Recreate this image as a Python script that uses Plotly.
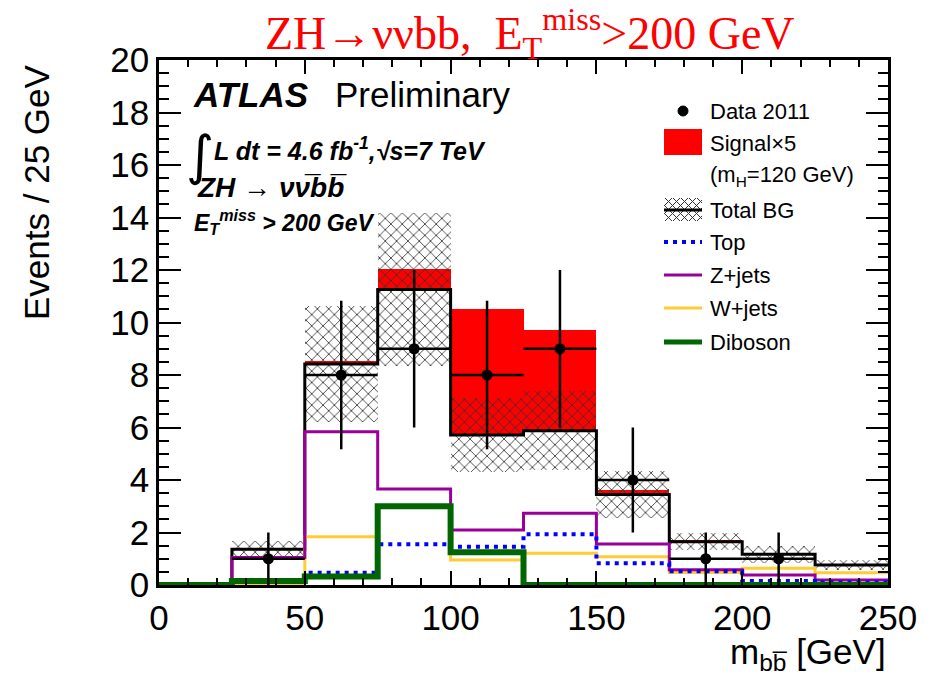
import plotly.graph_objects as go

# ---------------- data ----------------
bin_edges = [0, 25, 50, 75, 100, 125, 150, 175, 200, 225, 250]
bin_centers = [12.5, 37.5, 62.5, 87.5, 112.5, 137.5, 162.5, 187.5, 212.5, 237.5]

zjets = [0.0, 1.05, 5.84, 3.66, 2.10, 2.73, 1.56, 0.58, 0.38, 0.19]
wjets = [0.0, 0.00, 1.84, 3.00, 0.95, 1.21, 1.08, 0.48, 0.64, 0.47]
top = [0.0, 0.18, 0.47, 1.55, 1.46, 1.93, 0.83, 0.52, 0.15, 0.10]
diboson = [0.0, 0.15, 0.32, 3.00, 1.25, 0.00, 0.00, 0.00, 0.00, 0.00]

total_bg = [0.0, 1.36, 8.42, 11.26, 5.71, 5.88, 3.45, 1.65, 1.17, 0.76]
total_bg_err = [0.0, 0.33, 2.20, 2.92, 1.40, 1.50, 0.89, 0.33, 0.32, 0.19]
signal_x5 = [0.0, 0.04, 0.11, 0.78, 4.79, 3.83, 0.17, 0.05, 0.04, 0.02]

data_x = [37.5, 62.5, 87.5, 112.5, 137.5, 162.5, 187.5, 212.5]
data_y = [1, 8, 9, 8, 9, 4, 1, 1]
data_err = [1.0, 2.83, 3.0, 2.83, 3.0, 2.0, 1.0, 1.0]

x_ticks = [0, 50, 100, 150, 200, 250]
y_ticks = [0, 2, 4, 6, 8, 10, 12, 14, 16, 18, 20]

# ---------------- styling ----------------
W, H = 940, 681
L, R, T, B = 159, 52, 60, 96
PW, PH = W - L - R, H - T - B
SANS = "Liberation Sans, Arial, Helvetica, sans-serif"
SERIF = "Liberation Serif, Times New Roman, serif"
RED = "#ff0000"
PURPLE = "#990099"
YELLOW = "#ffcc33"
BLUE = "#0000ff"
GREEN = "#006600"
HATCH = "#333333"


def px(x):
    return (x - L) / PW


def py(y):
    return (H - B - y) / PH


def step_xy(vals):
    return bin_edges, list(vals) + [vals[-1]]


fig = go.Figure()

# signal x5 stacked on top of total background
fig.add_trace(go.Bar(
    x=bin_centers, y=signal_x5, base=total_bg, width=25,
    marker=dict(color=RED, line=dict(width=0)), showlegend=False,
))

# background uncertainty hatch
fig.add_trace(go.Bar(
    x=bin_centers, y=[2 * e for e in total_bg_err],
    base=[t - e for t, e in zip(total_bg, total_bg_err)], width=25,
    marker=dict(color="rgba(0,0,0,0)", line=dict(width=0),
                pattern=dict(shape="x", fgcolor=HATCH, bgcolor="rgba(0,0,0,0)",
                             size=8, solidity=0.2, fillmode="replace")),
    showlegend=False,
))

# total BG line
sx, sy = step_xy(total_bg)
fig.add_trace(go.Scatter(x=sx, y=sy, mode="lines", line=dict(shape="hv", color="black", width=3),
                         showlegend=False))

for vals, col, wid, dash in [
    (wjets, YELLOW, 3, "solid"),
    (zjets, PURPLE, 3, "solid"),
    (top, BLUE, 4, "4px,5px"),
    (diboson, GREEN, 6, "solid"),
]:
    sx, sy = step_xy(vals)
    fig.add_trace(go.Scatter(x=sx, y=sy, mode="lines",
                             line=dict(shape="hv", color=col, width=wid, dash=dash),
                             showlegend=False))

# data
fig.add_trace(go.Scatter(
    x=data_x, y=data_y, mode="markers",
    marker=dict(color="black", size=11),
    error_y=dict(type="data", array=data_err, color="black", thickness=2.5, width=0),
    error_x=dict(type="constant", value=12.5, color="black", thickness=2.5, width=0),
    showlegend=False,
))

# ---------------- axes ----------------
axis_common = dict(
    showgrid=False, zeroline=False, showline=True, linecolor="black", linewidth=2.5,
    mirror="allticks", ticks="inside", tickcolor="black", tickwidth=2,
    tickfont=dict(family=SANS, size=35, color="black"),
)
fig.update_xaxes(range=[0, 250], tickvals=x_ticks, ticktext=[str(v) for v in x_ticks],
                 ticklen=14, minor=dict(dtick=10, ticklen=7, tickwidth=2, ticks="inside",
                                        tickcolor="black", showgrid=False),
                 **axis_common)
fig.update_yaxes(range=[0, 20], tickvals=y_ticks, ticktext=[str(v) for v in y_ticks],
                 ticklen=22, minor=dict(dtick=0.5, ticklen=10, tickwidth=2, ticks="inside",
                                        tickcolor="black", showgrid=False),
                 **axis_common)

ann = []
shapes = []

# axis titles
ann.append(dict(text="Events / 25 GeV", x=px(36), y=py(62), xref="paper", yref="paper",
                textangle=-90, xanchor="center", yanchor="top", showarrow=False,
                font=dict(family=SANS, size=35, color="black")))
ann.append(dict(text="m<sub>bb\u0305</sub> [GeV]", x=px(888), y=py(678), xref="paper", yref="paper",
                xanchor="right", yanchor="bottom", showarrow=False,
                font=dict(family=SANS, size=35, color="black")))

# red slide title
ann.append(dict(text="ZH\u2192\u03bd\u03bdbb,\u00a0\u00a0E<sub>T</sub><sup>miss</sup>>200 GeV",
                x=px(530), y=py(33), xref="paper", yref="paper", xanchor="center", yanchor="middle",
                showarrow=False, font=dict(family=SERIF, size=46, color=RED)))

# ATLAS labels
ann.append(dict(text="<b><i>ATLAS</i></b>", x=px(191), y=py(94), xref="paper", yref="paper",
                xanchor="left", yanchor="middle", showarrow=False,
                font=dict(family=SANS, size=35, color="black")))
ann.append(dict(text="Preliminary", x=px(333), y=py(94), xref="paper", yref="paper",
                xanchor="left", yanchor="middle", showarrow=False,
                font=dict(family=SANS, size=35, color="black")))
ann.append(dict(text="<i>\u222b</i>", x=px(184), y=py(155), xref="paper", yref="paper",
                xanchor="left", yanchor="middle", showarrow=False,
                font=dict(family="DejaVu Sans, " + SANS, size=54, color="black")))
ann.append(dict(text="<b><i>L dt = 4.6 fb<sup>-1</sup>,\u221as=7 TeV</i></b>", x=px(212), y=py(149),
                xref="paper", yref="paper", xanchor="left", yanchor="middle", showarrow=False,
                font=dict(family=SANS, size=25, color="black")))
ann.append(dict(text="<b><i>ZH \u2192 \u03bd\u03bd\u0305bb\u0305</i></b>", x=px(195), y=py(187),
                xref="paper", yref="paper", xanchor="left", yanchor="middle", showarrow=False,
                font=dict(family=SANS, size=28, color="black")))
ann.append(dict(text="<b><i>E<sub>T</sub><sup>miss</sup> > 200 GeV</i></b>", x=px(192), y=py(222),
                xref="paper", yref="paper", xanchor="left", yanchor="middle", showarrow=False,
                font=dict(family=SANS, size=23, color="black")))

# ---------------- legend (manual) ----------------
sym_x0, sym_x1, txt_x = 664, 702, 708
leg_font = dict(family=SANS, size=22, color="black")


def leg_text(t, yc):
    ann.append(dict(text=t, x=px(txt_x), y=py(yc), xref="paper", yref="paper",
                    xanchor="left", yanchor="middle", showarrow=False, font=leg_font))


def leg_line(yc, col, wid, dash="solid"):
    shapes.append(dict(type="line", xref="paper", yref="paper", x0=px(sym_x0), x1=px(sym_x1),
                       y0=py(yc), y1=py(yc), line=dict(color=col, width=wid, dash=dash)))


# Data 2011
shapes.append(dict(type="circle", xref="paper", yref="paper", x0=px(678), x1=px(688),
                   y0=py(106), y1=py(116), fillcolor="black", line=dict(color="black", width=1)))
leg_text("Data 2011", 111)
# Signal
shapes.append(dict(type="rect", xref="paper", yref="paper", x0=px(sym_x0), x1=px(sym_x1),
                   y0=py(129), y1=py(155), fillcolor=RED, line=dict(width=0)))
leg_text("Signal\u00d75", 143)
leg_text("(m<sub>H</sub>=120 GeV)", 176)
# Total BG hatch
hx0, hx1, hy0, hy1 = sym_x0, sym_x1, 198, 221
segs = []
c = hx0 - hy1
while c <= hx1 - hy0:
    xa, xb = max(hx0, hy0 + c), min(hx1, hy1 + c)
    if xb > xa:
        segs.append(f"M{px(xa)},{py(xa - c)} L{px(xb)},{py(xb - c)}")
    c += 8
c = hx0 + hy0
while c <= hx1 + hy1:
    xa, xb = max(hx0, c - hy1), min(hx1, c - hy0)
    if xb > xa:
        segs.append(f"M{px(xa)},{py(c - xa)} L{px(xb)},{py(c - xb)}")
    c += 8
shapes.append(dict(type="path", xref="paper", yref="paper", path=" ".join(segs),
                   line=dict(color=HATCH, width=1)))
leg_line(210, "black", 3)
leg_text("Total BG", 210)
leg_line(242, BLUE, 4, "4px,5px")
leg_text("Top", 242)
leg_line(275, PURPLE, 3)
leg_text("Z+jets", 275)
leg_line(308, YELLOW, 3)
leg_text("W+jets", 308)
leg_line(342, GREEN, 5)
leg_text("Diboson", 342)

fig.update_layout(
    width=W, height=H, margin=dict(l=L, r=R, t=T, b=B, pad=0),
    plot_bgcolor="white", paper_bgcolor="white",
    barmode="overlay", bargap=0, showlegend=False,
    annotations=ann, shapes=shapes,
)

fig.write_html("out.html")
